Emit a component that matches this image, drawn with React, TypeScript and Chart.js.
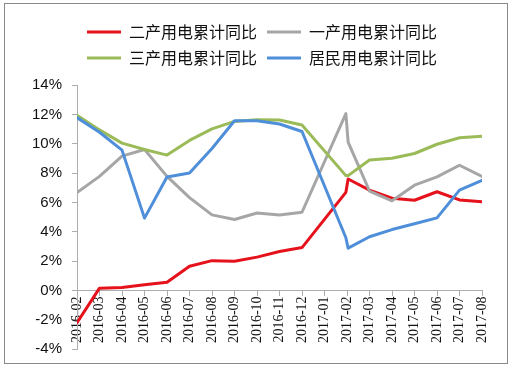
import React, { useEffect, useRef } from 'react';
import { Chart, registerables } from 'chart.js';

Chart.register(...registerables);

// Month tick labels (category positions 0..18)
const tickLabels = [
  '2016-02', '2016-03', '2016-04', '2016-05', '2016-06', '2016-07', '2016-08',
  '2016-09', '2016-10', '2016-11', '2016-12', '2017-01', '2017-02', '2017-03',
  '2017-04', '2017-05', '2017-06', '2017-07', '2017-08',
];

// Month index of each reading: 2017-01 has no reading, 2017-02 has two
const pointPositions = [0, 1, 2, 3, 4, 5, 6, 7, 8, 9, 10, 11.95, 12.05, 13, 14, 15, 16, 17, 18];

const seriesNames = ['二产用电累计同比', '一产用电累计同比', '三产用电累计同比', '居民用电累计同比'];

// values in %
const secondaryIndustry = [-2.2, 0.15, 0.2, 0.38, 0.55, 1.65, 2.03, 1.99, 2.27, 2.65, 2.92, 6.69, 7.6, 6.84, 6.29, 6.15, 6.73, 6.17, 6.04];
const primaryIndustry = [6.67, 7.78, 9.16, 9.61, 7.78, 6.33, 5.15, 4.84, 5.28, 5.15, 5.33, 12.06, 10.12, 6.78, 6.11, 7.18, 7.74, 8.54, 7.78];
const tertiaryIndustry = [11.95, 10.95, 10.05, 9.61, 9.23, 10.23, 11.02, 11.53, 11.64, 11.62, 11.28, 7.83, 7.83, 8.9, 9.01, 9.34, 9.97, 10.41, 10.52];
const residential = [11.79, 10.79, 9.57, 4.93, 7.74, 8.01, 9.68, 11.57, 11.57, 11.35, 10.84, 3.59, 2.88, 3.66, 4.15, 4.55, 4.95, 6.84, 7.51];

const seriesColors = ['#E5121C', '#A6A6A6', '#9BBB59', '#4F8FDA'];

const AXIS_COLOR = '#ADADAD';

const framePlugin = {
  id: 'frame',
  afterDraw(chart: any) {
    const ctx = chart.ctx;
    ctx.save();
    ctx.strokeStyle = '#8A8A8A';
    ctx.lineWidth = 1;
    ctx.strokeRect(4.5, 3.5, 503, 360);
    ctx.restore();
  },
};

export default function App() {
  const canvasRef = useRef<HTMLCanvasElement | null>(null);

  useEffect(() => {
    if (!canvasRef.current) return;
    const toPoints = (values: number[]) => values.map((v, i) => ({ x: pointPositions[i], y: v }));
    const allSeries = [secondaryIndustry, primaryIndustry, tertiaryIndustry, residential];
    const datasets = allSeries.map((values, i) => ({
      label: seriesNames[i],
      data: toPoints(values),
      borderColor: seriesColors[i],
      backgroundColor: seriesColors[i],
      borderWidth: 3,
      pointRadius: 0,
      pointHoverRadius: 0,
      tension: 0,
      borderJoinStyle: 'round' as const,
      borderCapStyle: 'round' as const,
      order: allSeries.length - i,
    }));

    const chart = new Chart(canvasRef.current, {
      type: 'line',
      data: { datasets },
      plugins: [framePlugin],
      options: {
        animation: false,
        responsive: false,
        events: [],
        layout: { padding: { top: 14, left: 0, right: 31, bottom: 9 } },
        plugins: {
          title: {
            display: true,
            text: '',
            weight: 500,
            padding: { top: 0, bottom: 8 },
            font: { size: 1 },
          },
          legend: {
            position: 'top',
            fullSize: false,
            align: 'start',
            labels: {
              usePointStyle: true,
              pointStyle: 'line',
              pointStyleWidth: 34,
              padding: 10,
              color: '#111',
              font: { family: '"Noto Sans CJK SC"', size: 16 },
              sort: (a: any, b: any) => a.datasetIndex - b.datasetIndex,
            },
          },
          tooltip: { enabled: false },
        },
        scales: {
          x: {
            type: 'linear',
            min: 0,
            max: tickLabels.length - 1,
            position: { y: 0 } as any,
            grid: { drawOnChartArea: false, drawTicks: true, tickLength: 5, color: AXIS_COLOR },
            border: { display: true, color: AXIS_COLOR, width: 1 },
            ticks: {
              stepSize: 1,
              autoSkip: false,
              maxRotation: 90,
              minRotation: 90,
              padding: 1,
              color: '#111',
              font: { family: '"Liberation Serif"', size: 14 },
              callback: (v: any) => {
                const idx = Math.round(Number(v));
                return Math.abs(Number(v) - idx) < 1e-6 ? tickLabels[idx] ?? '' : '';
              },
            },
          },
          y: {
            min: -4,
            max: 14,
            grid: { drawOnChartArea: false, drawTicks: true, tickLength: 5, color: AXIS_COLOR },
            border: { display: true, color: AXIS_COLOR, width: 1 },
            ticks: {
              stepSize: 2,
              padding: 10,
              color: '#111',
              font: { family: '"Liberation Sans"', size: 15 },
              callback: (v: any) => `${v}%`,
            },
            afterFit: (scale: any) => {
              scale.width = 77;
            },
          },
        },
      },
    } as any);

    return () => chart.destroy();
  }, []);

  return (
    <div style={{ position: 'absolute', left: 0, top: 0, width: 513, height: 368, background: '#fff' }}>
      <canvas ref={canvasRef} width={513} height={368} style={{ display: 'block' }} />
    </div>
  );
}
